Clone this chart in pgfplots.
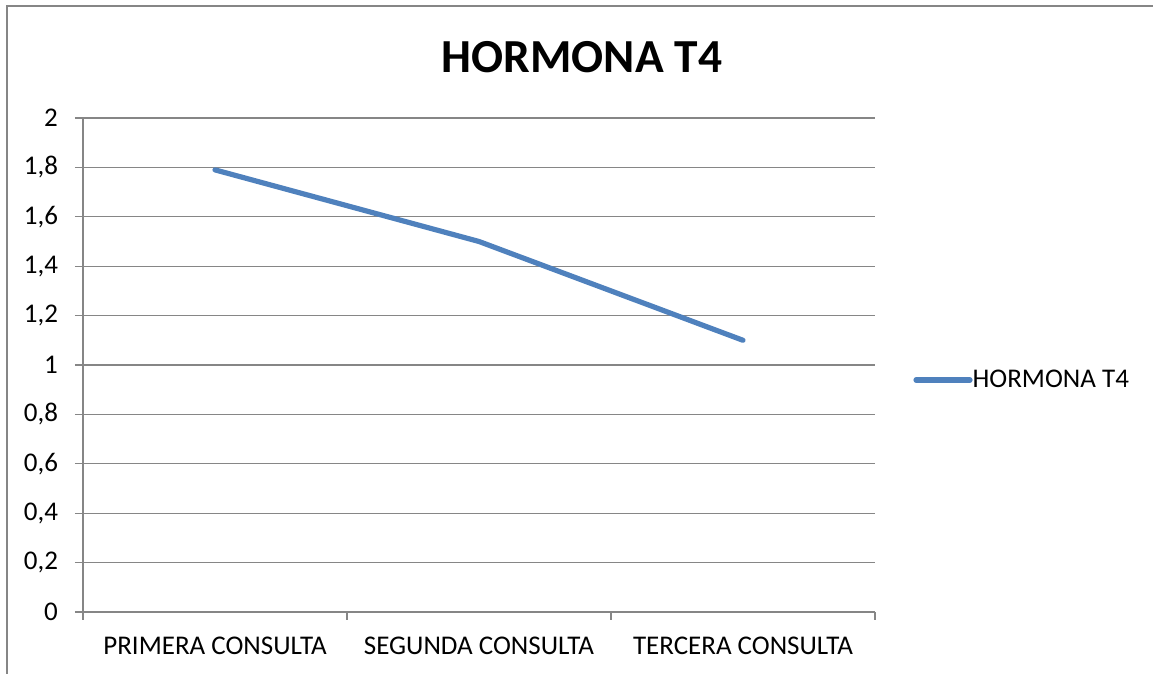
\documentclass[border=0pt]{standalone}
\usepackage{fontspec}
\setmainfont{Carlito}
\usepackage{pgfplots}
\pgfplotsset{compat=1.18}
\definecolor{xlblue}{RGB}{79,129,189}
\definecolor{xlgrid}{RGB}{134,134,134}
\begin{document}
\begin{tikzpicture}
\useasboundingbox (-41.5pt,-31pt) rectangle (535pt,306pt);
\draw[xlgrid, line width=1pt] (-38pt,-40pt) -- (-38pt,303pt) -- (540pt,303pt);
\begin{axis}[
  at={(0,0)}, anchor=south west,
  scale only axis, width=396pt, height=247pt,
  xmin=-0.5, xmax=2.5, ymin=0, ymax=2,
  axis x line=bottom, axis y line=left,
  axis line style={xlgrid, line width=0.6pt, -},
  xtick={-0.5,0.5,1.5,2.5},
  x tick label as interval,
  xticklabels={PRIMERA CONSULTA, SEGUNDA CONSULTA, TERCERA CONSULTA},
  ytick={0,0.2,...,2},
  yticklabel={\pgfmathprintnumber[use comma, fixed, precision=1]{\tick}},
  /pgf/number format/assume math mode=true,
  ymajorgrids, grid style={xlgrid, line width=0.6pt},
  tick style={xlgrid, line width=0.6pt}, tick align=outside, major tick length=4pt,
  tick label style={font=\fontsize{13.5}{16}\selectfont, text=black},
  yticklabel style={xshift=-5pt},
  xticklabel style={yshift=-5pt},
  title={HORMONA T4},
  title style={at={(rel axis cs:0.63,1.099)}, anchor=center, font=\bfseries\fontsize{23.7}{28}\selectfont},
  legend style={at={(rel axis cs:1.048,0.4696)}, anchor=west, draw=none, fill=none,
    font=\fontsize{13.5}{16}\selectfont, inner sep=0pt, legend cell align=left},
  legend image code/.code={\draw[#1, line cap=round] (0pt,0pt) -- (27pt,0pt);},
  legend style={/tikz/every even column/.append style={column sep=0pt}},
]
\addplot[xlblue, line width=2.6pt, line cap=round, line join=round] coordinates {(0,1.79) (1,1.5) (2,1.1)};
\addlegendentry{\hspace{-2pt}HORMONA T4}
\end{axis}
\end{tikzpicture}
\end{document}
